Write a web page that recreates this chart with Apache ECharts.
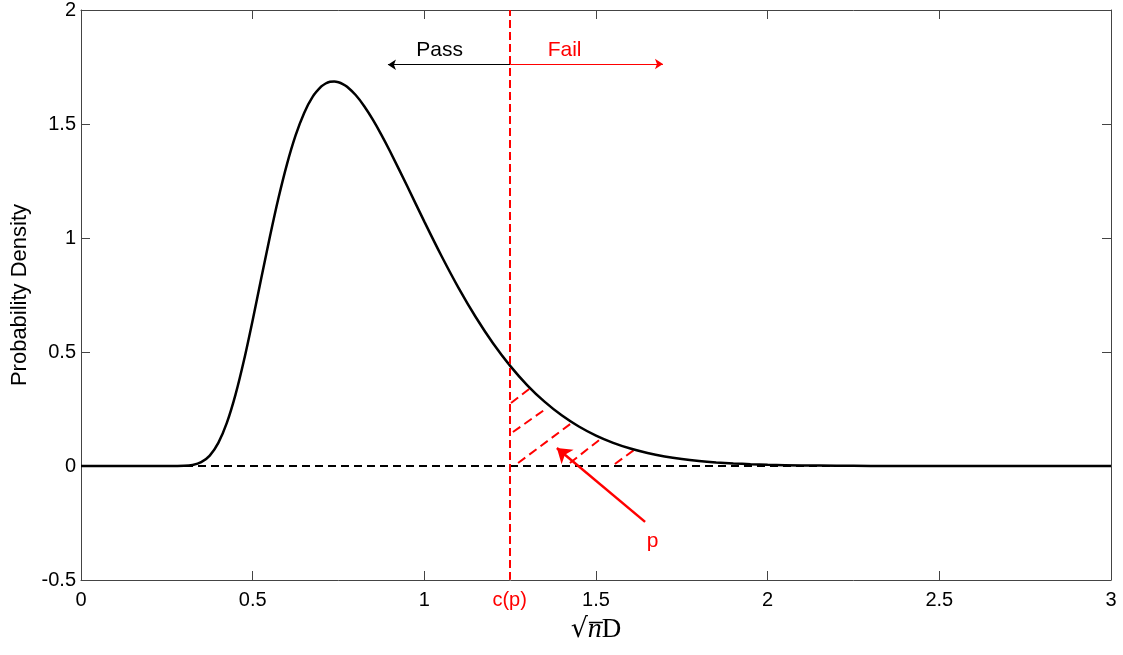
<!DOCTYPE html>
<html>
<head>
<meta charset="utf-8">
<script src="https://cdn.jsdelivr.net/npm/echarts@6/dist/echarts.min.js"></script>
<style>
  html, body { margin: 0; padding: 0; background: #fff; }
  #chart { width: 1123px; height: 655px; }
</style>
</head>
<body>
<div id="chart"></div>
<script>
// ---- data ----
const xValues = [0, 0.25, 0.3, 0.325, 0.35, 0.375, 0.4, 0.425, 0.45, 0.475, 0.5, 0.525, 0.55, 0.575, 0.6, 0.625, 0.65, 0.675, 0.7, 0.7125, 0.725, 0.7375, 0.75, 0.7625, 0.775, 0.8, 0.825, 0.85, 0.875, 0.9, 0.95, 1.0, 1.05, 1.1, 1.15, 1.2, 1.25, 1.3, 1.35, 1.4, 1.45, 1.5, 1.55, 1.6, 1.65, 1.7, 1.75, 1.8, 1.85, 1.9, 1.95, 2.0, 2.1, 2.2, 2.3, 2.4, 3.0];
const density = [0, 0.0000, 0.0008, 0.0045, 0.0166, 0.0457, 0.1012, 0.1899, 0.3129, 0.4658, 0.6396, 0.8230, 1.0043, 1.1740, 1.3242, 1.4498, 1.5487, 1.6200, 1.6646, 1.6777, 1.6850, 1.6867, 1.6833, 1.6753, 1.6631, 1.6270, 1.5782, 1.5192, 1.4527, 1.3807, 1.2278, 1.0719, 0.9211, 0.7803, 0.6523, 0.5385, 0.4393, 0.3540, 0.2821, 0.2222, 0.1731, 0.1333, 0.1015, 0.0765, 0.0570, 0.0420, 0.0306, 0.0221, 0.0158, 0.0111, 0.0078, 0.0054, 0.0025, 0.0011, 0.0005, 0.0002, 0];

const criticalValue = 1.25;           // c(p)
const criticalLabel = 'c(p)';
const xTickLabels = ['0', '0.5', '1', '1.5', '2', '2.5', '3'];
const yTickLabels = ['-0.5', '0', '0.5', '1', '1.5', '2'];

// hatch segments in the rejection tail: [x1, y1, x2, y2]
const hatchSegments = [
  [1.2525, 0.276, 1.3078, 0.341],
  [1.258, 0.149, 1.357, 0.254],
  [1.273, 0.013, 1.433, 0.193],
  [1.424, 0.013, 1.517, 0.123],
  [1.555, 0.009, 1.619, 0.079]
];
// arrows: [x1, y1, x2, y2] (head at x2,y2)
const passArrow = [1.25, 1.760, 0.894, 1.760];
const failArrow = [1.25, 1.763, 1.695, 1.763];
const pArrow = [1.643, -0.245, 1.386, 0.079];
// annotations: [x, y, text]
const blackNotes = [[1.046, 1.821, 'Pass']];
const redNotes = [[1.410, 1.823, 'Fail'], [1.666, -0.333, 'p']];

// ---- chart ----
const chart = echarts.init(document.getElementById('chart'), null, { renderer: 'canvas' });
const FONT = 'Liberation Sans, Arial, Helvetica, sans-serif';
const AX = '#444';

const seg = s => ({ coords: [[s[0], s[1]], [s[2], s[3]]] });

function xAx(pos, showLabel) {
  return {
    type: 'value', position: pos, min: 0, max: 3, interval: 0.5,
    axisLine: { show: true, onZero: false, lineStyle: { color: AX, width: 1 } },
    axisTick: { show: true, inside: true, length: 9, lineStyle: { color: AX } },
    splitLine: { show: false },
    axisLabel: {
      show: showLabel, margin: 10, color: '#000', fontSize: 20, fontFamily: FONT,
      formatter: v => xTickLabels[Math.round(v / 0.5)]
    }
  };
}
function yAx(pos, showLabel) {
  return {
    type: 'value', position: pos, min: -0.5, max: 2, interval: 0.5,
    axisLine: { show: true, onZero: false, lineStyle: { color: AX, width: 1 } },
    axisTick: { show: true, inside: true, length: 9, lineStyle: { color: AX } },
    splitLine: { show: false },
    axisLabel: {
      show: showLabel, margin: 5, color: '#000', fontSize: 20, fontFamily: FONT,
      formatter: v => yTickLabels[Math.round((v + 0.5) / 0.5)]
    }
  };
}

const xBottom = xAx('bottom', true);
xBottom.name = '{a|\u221A}{b|n\u0305}{c|D}';
xBottom.nameLocation = 'middle';
xBottom.nameGap = 36;
xBottom.nameTextStyle = {
  rich: {
    a: { fontFamily: 'DejaVu Serif, Liberation Serif, serif', fontSize: 27, color: '#000' },
    b: { fontFamily: 'Liberation Serif, DejaVu Serif, serif', fontStyle: 'italic', fontSize: 28, color: '#000' },
    c: { fontFamily: 'Liberation Serif, DejaVu Serif, serif', fontSize: 27, color: '#000' }
  }
};
const yLeft = yAx('left', true);
yLeft.name = 'Probability Density';
yLeft.nameLocation = 'middle';
yLeft.nameGap = 49;
yLeft.nameTextStyle = { color: '#000', fontSize: 22, fontFamily: FONT };

function noteSeries(notes, color, fontSize, offsetY) {
  return {
    type: 'scatter', z: 6, symbolSize: 1, silent: true, clip: false,
    itemStyle: { color: '#ffffff', opacity: 1 },
    label: {
      show: true, position: [0, offsetY], align: 'center', verticalAlign: 'middle',
      fontSize: fontSize, fontFamily: FONT,
      color: color, textBorderWidth: 0, formatter: p => p.data[2]
    },
    data: notes
  };
}

const option = {
  animation: false,
  backgroundColor: '#fff',
  grid: { left: 81, right: 12, top: 9, bottom: 75, containLabel: false },
  xAxis: [xBottom, xAx('top', false)],
  yAxis: [yLeft, yAx('right', false)],
  series: [
    { // dashed zero line
      type: 'lines', coordinateSystem: 'cartesian2d', z: 1,
      lineStyle: { color: '#000', width: 2, type: [8, 5], opacity: 1 },
      data: [seg([0, 0, 3, 0])]
    },
    { // hatching
      type: 'lines', coordinateSystem: 'cartesian2d', z: 2,
      lineStyle: { color: '#ff0000', width: 2, type: [9, 5], opacity: 1 },
      data: hatchSegments.map(seg)
    },
    { // density curve
      type: 'line', z: 3, showSymbol: false, smooth: 0.25,
      lineStyle: { color: '#000', width: 2.5 },
      data: xValues.map((x, i) => [x, density[i]])
    },
    { // critical value line
      type: 'lines', coordinateSystem: 'cartesian2d', z: 4,
      lineStyle: { color: '#ff0000', width: 2, type: [8, 4], opacity: 1 },
      data: [seg([criticalValue, -0.5, criticalValue, 2])]
    },
    { // pass arrow
      type: 'lines', coordinateSystem: 'cartesian2d', z: 5,
      symbol: ['none', 'arrow'], symbolSize: [0, 8],
      lineStyle: { color: '#000', width: 1, opacity: 1 },
      data: [seg(passArrow)]
    },
    { // fail arrow
      type: 'lines', coordinateSystem: 'cartesian2d', z: 5,
      symbol: ['none', 'arrow'], symbolSize: [0, 8],
      lineStyle: { color: '#ff0000', width: 1, opacity: 1 },
      data: [seg(failArrow)]
    },
    { // p arrow
      type: 'lines', coordinateSystem: 'cartesian2d', z: 5,
      symbol: ['none', 'arrow'], symbolSize: [0, 14],
      lineStyle: { color: '#ff0000', width: 2.5, opacity: 1 },
      data: [seg(pArrow)]
    },
    noteSeries(blackNotes, '#000000', 21, 0),
    noteSeries(redNotes, '#ff0000', 21, 0),
    // c(p) tick label under the x axis
    noteSeries([[criticalValue, -0.5, criticalLabel]], '#ff0000', 20, 21)
  ]
};
chart.setOption(option);
</script>
</body>
</html>
